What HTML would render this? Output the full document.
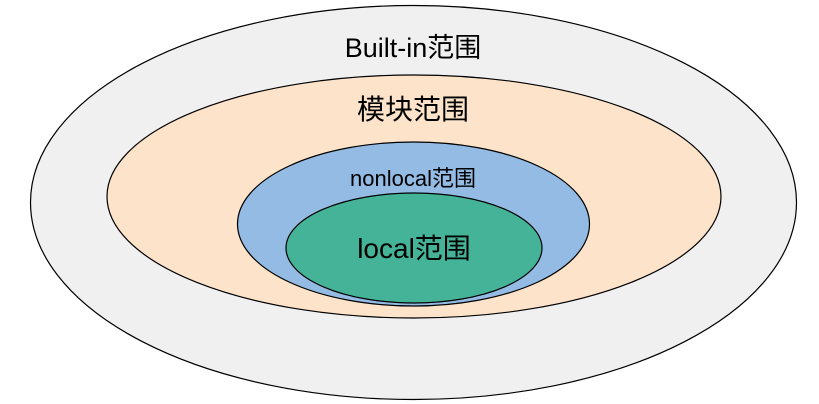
<!DOCTYPE html>
<html><head><meta charset="utf-8"><style>
html,body{margin:0;padding:0;background:#fff;width:819px;height:404px;overflow:hidden}
text{font-family:"Liberation Sans","Noto Sans CJK SC",sans-serif;fill:#000}
</style></head><body>
<svg width="819" height="404" viewBox="0 0 819 404" xmlns="http://www.w3.org/2000/svg">
<ellipse cx="413.5" cy="202.5" rx="383" ry="197" fill="#f0f0f0" stroke="#000" stroke-width="1.2"/>
<ellipse cx="414" cy="196.5" rx="307" ry="121.5" fill="#fce3c9" stroke="#000" stroke-width="1.2"/>
<ellipse cx="413.5" cy="224" rx="176" ry="82" fill="#93bbe4" stroke="#000" stroke-width="1.2"/>
<ellipse cx="414" cy="248" rx="128" ry="55" fill="#45b398" stroke="#000" stroke-width="1.2"/>
<text x="413" y="57" font-size="27" text-anchor="middle">Built-in范围</text>
<text x="413" y="119" font-size="28" text-anchor="middle">模块范围</text>
<text x="413" y="186" font-size="22" text-anchor="middle">nonlocal范围</text>
<text x="414" y="258" font-size="28" text-anchor="middle">local范围</text>
</svg>
</body></html>
